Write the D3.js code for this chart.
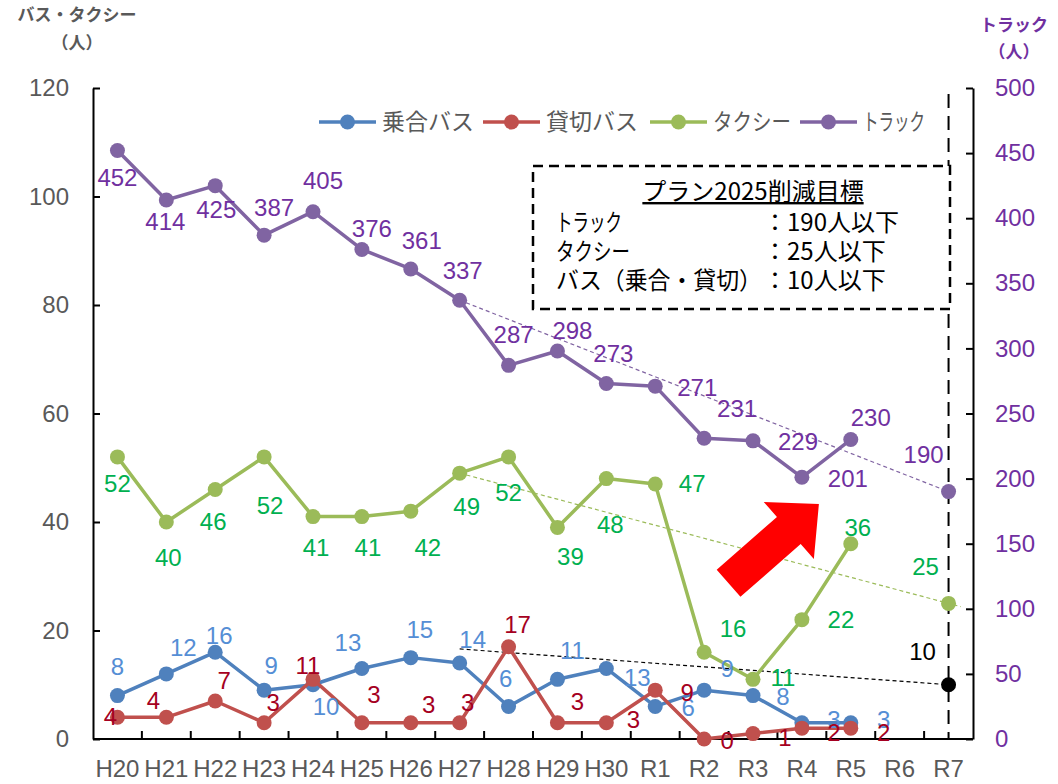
<!DOCTYPE html>
<html>
<meta charset="utf-8">
<style>
  body { margin: 0; background: #fff; }
  svg text { font-family: "Liberation Sans", Arial, "Noto Sans CJK JP", sans-serif; }
  .jp { font-family: "Noto Sans CJK JP", "Liberation Sans", sans-serif; }
</style>
<body>
<svg width="1058" height="784"></svg>
<script src="https://cdn.jsdelivr.net/npm/d3@7"></script>
<script>
// 年度
const years = ['H20','H21','H22','H23','H24','H25','H26','H27','H28','H29','H30','R1','R2','R3','R4','R5','R6','R7'];
// 各業態の死者数（人）
const noriai    = [8,12,16,9,10,13,15,14,6,11,13,6,9,8,3,3,null,null];
const kashikiri = [4,4,7,3,11,3,3,3,17,3,3,9,0,1,2,2,null,null];
const taxi      = [52,40,46,52,41,41,42,49,52,39,48,47,16,11,22,36,null,25];
const truck     = [452,414,425,387,405,376,361,337,287,298,273,271,231,229,201,230,null,190];
// バス目標（R7）
const busTarget = 10;
// 目標へのトレンド線 [開始年, 開始値, 終了年, 終了値]
const trendTruck = ['H27', 337, 'R7', 190];
const trendTaxi  = ['H27', 49, 'R7', 25];
const trendBus   = ['H27', 16.6, 'R7', 10];
const leftTicks  = [0,20,40,60,80,100,120];
const rightTicks = [0,50,100,150,200,250,300,350,400,450,500];
const goalTitle = 'プラン2025削減目標';
const goalRows = [['トラック', '：190人以下'], ['タクシー', '：25人以下'], ['バス（乗合・貸切）', '：10人以下']];

// ラベル位置（点からのずれ）
const offBlue = [[0,-29],[17,-27],[4,-17],[7,-25],[13,22],[-14,-26],[9,-28],[13,-24],[-3,-28],[15,-29],[31,9],[33,1],[23,-22],[30,1],[32,-3],[33,-3]];
const offRed = [[-7,-1],[-13,-17],[9,-21],[9,-20],[-5,-14],[12,-28],[18,-18],[8,-20],[9,-22],[20,-21],[27,-3],[32,2],[23,1],[32,4],[32,4],[33,4]];
const offGreen = [[0,26],[2,35],[-2,32],[6,48],[3,31],[6,31],[17,36],[7,33],[0,35],[13,29],[4,46],[37,-1],[29,-24],[30,-2],[39,0],[7,-16],null,[-23,-37]];
const offPurple = [[0,27],[-1,21],[1,24],[10,-28],[10,-31],[10,-21],[11,-29],[3,-30],[5,-31],[15,-21],[7,-30],[42,1],[33,-30],[45,1],[46,1],[20,-22],null,[-25,-37]];

const svg = d3.select('svg');
const pL = 93, pR = 973, pT = 88, pB = 739;

const x = d3.scaleBand().domain(years).range([pL, pR]);
const xc = d => x(d) + x.bandwidth() / 2;
const yL = d3.scaleLinear().domain([0, 120]).range([pB, pT]);
const yR = d3.scaleLinear().domain([0, 500]).range([pB, pT]);

// 軸
const axL = svg.append('g').attr('transform', `translate(${pL},0)`)
  .call(d3.axisLeft(yL).tickValues(leftTicks).tickSizeInner(-7).tickSizeOuter(0).tickPadding(24));
const axR = svg.append('g').attr('transform', `translate(${pR},0)`)
  .call(d3.axisRight(yR).tickValues(rightTicks).tickSizeInner(-7).tickSizeOuter(0).tickPadding(22));
const axB = svg.append('g').attr('transform', `translate(0,${pB})`)
  .call(d3.axisBottom(x).tickSize(0).tickPadding(21));
[axL, axR, axB].forEach(g => {
  g.selectAll('path, line').attr('stroke', '#000').attr('stroke-width', 2);
  g.selectAll('text').attr('font-size', 24).attr('fill', '#595959');
});
axR.selectAll('text').attr('fill', '#7030A0');
axB.select('.domain').attr('d', `M${pL},0H${pR}`);
// 目盛（区切り）
axB.selectAll('.sep').data(years.slice(1)).enter().append('line')
  .attr('class', 'sep')
  .attr('x1', d => x(d)).attr('x2', d => x(d))
  .attr('y1', 0).attr('y2', -8)
  .attr('stroke', '#000').attr('stroke-width', 2);

// 軸タイトル
svg.append('text').attr('class', 'jp').attr('x', 77).attr('y', 21).attr('text-anchor', 'middle')
  .attr('font-size', 17).attr('font-weight', 'bold').attr('fill', '#595959').text('バス・タクシー');
svg.append('text').attr('class', 'jp').attr('x', 77).attr('y', 49).attr('text-anchor', 'middle')
  .attr('font-size', 17).attr('font-weight', 'bold').attr('fill', '#595959').text('（人）');
svg.append('text').attr('class', 'jp').attr('x', 1014).attr('y', 31).attr('text-anchor', 'middle')
  .attr('font-size', 17).attr('font-weight', 'bold').attr('fill', '#7030A0').text('トラック');
svg.append('text').attr('class', 'jp').attr('x', 1014).attr('y', 58).attr('text-anchor', 'middle')
  .attr('font-size', 17).attr('font-weight', 'bold').attr('fill', '#7030A0').text('（人）');

// R7 縦の破線
svg.append('line')
  .attr('x1', xc('R7')).attr('x2', xc('R7'))
  .attr('y1', pT + 6).attr('y2', pB)
  .attr('stroke', '#000').attr('stroke-width', 2).attr('stroke-dasharray', '14,8');

// 目標の枠
const box = svg.append('g');
box.append('rect').attr('x', 533).attr('y', 166).attr('width', 417).attr('height', 143)
  .attr('fill', '#fff').attr('stroke', '#000').attr('stroke-width', 2.5).attr('stroke-dasharray', '10,6');
box.append('text').attr('class', 'jp').attr('x', 753).attr('y', 200).attr('text-anchor', 'middle')
  .attr('font-size', 24).attr('text-decoration', 'underline').text(goalTitle);
const rowW = [66, 74, 206];
goalRows.forEach((r, i) => {
  box.append('text').attr('class', 'jp').attr('x', 556).attr('y', 231 + i * 29).attr('font-size', 24)
    .attr('textLength', rowW[i]).attr('lengthAdjust', 'spacingAndGlyphs').text(r[0]);
  box.append('text').attr('class', 'jp').attr('x', 763).attr('y', 231 + i * 29).attr('font-size', 24).text(r[1]);
});

// トレンド線
function trend(t, y, color, extend) {
  const x1 = xc(t[0]), x2 = xc(t[2]);
  let x2e = x2, v2e = t[3];
  if (extend) { // 少し延長
    const step = x.bandwidth() * 0.25;
    x2e = x2 + step;
    v2e = t[3] + (t[3] - t[1]) * step / (x2 - x1);
  }
  svg.append('line')
    .attr('x1', x1).attr('y1', y(t[1])).attr('x2', x2e).attr('y2', y(v2e))
    .attr('stroke', color).attr('stroke-width', 1.2).attr('stroke-dasharray', '4,3');
}
trend(trendTruck, yR, '#8064A2', false);
trend(trendTaxi, yL, '#9BBB59', true);
trend(trendBus, yL, '#000', false);

// 系列
const series = [
  {name: '乗合バス', values: noriai, y: yL, color: '#4F81BD', label: '#558ED5', off: offBlue},
  {name: '貸切バス', values: kashikiri, y: yL, color: '#C0504D', label: '#A50021', off: offRed},
  {name: 'タクシー', values: taxi, y: yL, color: '#9BBB59', label: '#00B050', off: offGreen},
  {name: 'トラック', values: truck, y: yR, color: '#8064A2', label: '#7030A0', off: offPurple}
];

series.forEach(s => {
  const pts = years.map((yr, i) => ({yr, v: s.values[i], i}));
  const line = d3.line().defined(d => d.v != null).x(d => xc(d.yr)).y(d => s.y(d.v));
  svg.append('path').datum(pts).attr('d', line)
    .attr('fill', 'none').attr('stroke', s.color).attr('stroke-width', 3.5).attr('stroke-linejoin', 'round');
  svg.selectAll(null).data(pts.filter(d => d.v != null)).enter().append('circle')
    .attr('cx', d => xc(d.yr)).attr('cy', d => s.y(d.v)).attr('r', 7.5).attr('fill', s.color);
});

// バス目標点
svg.append('circle').attr('cx', xc('R7')).attr('cy', yL(busTarget)).attr('r', 7.5).attr('fill', '#000');

// 矢印
(function () {
  const tail = [x('R2') + x.bandwidth() * 1.0, yL(28.7)];
  const tip = [xc('R4') + 17, yL(43.3)];
  const dx = tip[0] - tail[0], dy = tip[1] - tail[1];
  const len = Math.hypot(dx, dy), ux = dx / len, uy = dy / len, nx = -uy, ny = ux;
  const sw = 18, hw = 38, hl = 40;
  const bx = tip[0] - ux * hl, by = tip[1] - uy * hl;
  const p = [
    [tail[0] + nx * sw, tail[1] + ny * sw],
    [bx + nx * sw, by + ny * sw],
    [bx + nx * hw, by + ny * hw],
    tip,
    [bx - nx * hw, by - ny * hw],
    [bx - nx * sw, by - ny * sw],
    [tail[0] - nx * sw, tail[1] - ny * sw]
  ];
  svg.append('path').attr('d', d3.line()(p) + 'Z').attr('fill', '#FF0000');
})();

// データラベル
series.forEach(s => {
  const pts = years.map((yr, i) => ({yr, v: s.values[i], o: s.off[i]})).filter(d => d.v != null && d.o);
  svg.selectAll(null).data(pts).enter().append('text')
    .attr('x', d => xc(d.yr) + d.o[0]).attr('y', d => s.y(d.v) + d.o[1])
    .attr('dy', '0.36em').attr('text-anchor', 'middle')
    .attr('font-size', 24).attr('fill', s.label).text(d => d.v);
});
svg.append('text').attr('x', xc('R7') - 26).attr('y', yL(busTarget) - 33).attr('dy', '0.36em')
  .attr('text-anchor', 'middle').attr('font-size', 24).attr('fill', '#000').text(busTarget);

// 凡例
const legX = [319, 483, 650, 800];
const legW = [92, 92, 78, 62];
series.forEach((s, i) => {
  const g = svg.append('g').attr('transform', `translate(${legX[i]},122)`);
  g.append('line').attr('x1', 0).attr('x2', 57).attr('stroke', s.color).attr('stroke-width', 3.5);
  g.append('circle').attr('cx', 28.5).attr('r', 7.5).attr('fill', s.color);
  g.append('text').attr('class', 'jp').attr('x', 63).attr('dy', '0.36em').attr('font-size', 23)
    .attr('textLength', legW[i]).attr('lengthAdjust', 'spacingAndGlyphs')
    .attr('fill', '#595959').text(s.name);
});
</script>
</body>
</html>
